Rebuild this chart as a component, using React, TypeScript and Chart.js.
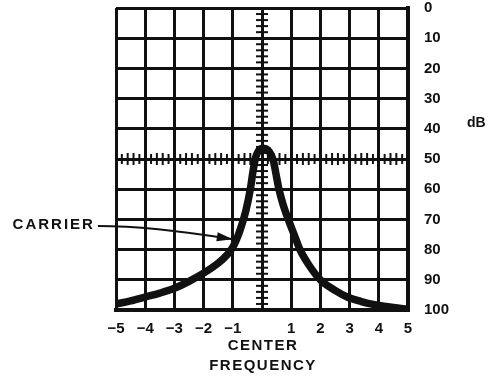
import React, { useEffect, useRef } from "react";
import { Chart, registerables } from "chart.js";

Chart.register(...registerables);

// ---- data ----
const freqMin = -5;
const freqMax = 5;
const dbMin = 0;
const dbMax = 100;
const freqStep = 1;
const dbStep = 10;

const freq = [
  -5, -4.5, -4, -3.5, -3, -2.5, -2, -1.5, -1.2, -1, -0.88, -0.75, -0.55, -0.4, -0.3, -0.22, -0.12,
  0.05, 0.2, 0.32, 0.4, 0.48, 0.58, 0.72, 0.9, 1.1, 1.3, 1.6, 2.0, 2.5, 2.9, 3.4, 3.9, 4.5, 5,
];
const carrierDb = [
  98.0, 97.0, 95.7, 94.4, 92.8, 90.5, 87.8, 84.5, 81.8, 79.2, 76.8, 73.5, 67.0, 60.0, 53.6, 49.5, 47.3,
  46.4, 47.0, 48.8, 51.0, 55.0, 60.0, 65.0, 70.0, 75.0, 80.0, 85.0, 90.0, 93.5, 95.6, 97.2, 98.3, 99.2, 99.7,
];

// graticule minor tick spacing (on the centre cross)
const dbMinorStep = 2;
const freqMinorStep = 0.2;
const crossFreq = 0;
const crossDb = 50;

const xTitle = ["CENTER", "FREQUENCY"];
const yTitle = "dB";
const carrierLabel = "CARRIER";
// arrow from label to the curve, in data units
const arrowStart = { x: -5.62, y: 72.2 };
const arrowCtrl = { x: -3.8, y: 72.2 };
const arrowTip = { x: -1.0, y: 76.6 };

const INK = "#111111";
const FONT = "'Liberation Sans', Arial, sans-serif";

const fmtFreq = (v: number) => (v === 0 ? "" : v < 0 ? "\u2212" + Math.abs(v) : String(v));

const overlayPlugin = {
  id: "overlay",
  beforeDatasetsDraw(chart: any) {
    const { ctx, scales } = chart;
    const x = scales.x;
    const y = scales.y;
    ctx.save();
    ctx.strokeStyle = INK;
    ctx.lineWidth = 2;
    const cx = x.getPixelForValue(crossFreq);
    const nDb = Math.round((dbMax - dbMin) / dbMinorStep);
    for (let i = 1; i < nDb; i++) {
      const py = y.getPixelForValue(dbMin + i * dbMinorStep);
      ctx.beginPath();
      ctx.moveTo(cx - 6, py);
      ctx.lineTo(cx + 6, py);
      ctx.stroke();
    }
    const cy = y.getPixelForValue(crossDb);
    const nF = Math.round((freqMax - freqMin) / freqMinorStep);
    for (let i = 1; i < nF; i++) {
      const v = freqMin + i * freqMinorStep;
      const px = x.getPixelForValue(v);
      const half = i % 5 === 2 || i % 5 === 3 ? 6 : 5;
      ctx.beginPath();
      ctx.moveTo(px, cy - half);
      ctx.lineTo(px, cy + half);
      ctx.stroke();
    }
    ctx.restore();
  },
  afterDraw(chart: any) {
    const { ctx, scales, chartArea } = chart;
    const x = scales.x;
    const y = scales.y;
    ctx.save();
    ctx.fillStyle = INK;
    ctx.strokeStyle = INK;
    ctx.font = `bold 15px ${FONT}`;
    (ctx as any).letterSpacing = "1.5px";
    ctx.textAlign = "center";
    ctx.textBaseline = "middle";
    const midX = (chartArea.left + chartArea.right) / 2;
    xTitle.forEach((t, i) => ctx.fillText(t, midX + 1, chartArea.bottom + 36 + i * 20));
    (ctx as any).letterSpacing = "0px";
    ctx.font = `bold 14px ${FONT}`;
    ctx.textAlign = "left";
    ctx.fillText(yTitle, chartArea.right + 59, y.getPixelForValue(38.2));
    const sx = x.getPixelForValue(arrowStart.x);
    const sy = y.getPixelForValue(arrowStart.y);
    const qx = x.getPixelForValue(arrowCtrl.x);
    const qy = y.getPixelForValue(arrowCtrl.y);
    const tx = x.getPixelForValue(arrowTip.x);
    const ty = y.getPixelForValue(arrowTip.y);
    ctx.font = `bold 15px ${FONT}`;
    (ctx as any).letterSpacing = "2px";
    ctx.textAlign = "right";
    ctx.fillText(carrierLabel, sx - 3, sy - 1);
    (ctx as any).letterSpacing = "0px";
    ctx.lineWidth = 2;
    ctx.beginPath();
    ctx.moveTo(sx, sy);
    ctx.quadraticCurveTo(qx, qy, tx, ty);
    ctx.stroke();
    const ang = Math.atan2(ty - qy, tx - qx);
    const len = 16;
    const w = 4.5;
    const bx = tx - len * Math.cos(ang);
    const by = ty - len * Math.sin(ang);
    ctx.beginPath();
    ctx.moveTo(tx, ty);
    ctx.lineTo(bx + w * Math.sin(ang), by - w * Math.cos(ang));
    ctx.lineTo(bx - w * Math.sin(ang), by + w * Math.cos(ang));
    ctx.closePath();
    ctx.fill();
    ctx.restore();
  },
};

export default function App() {
  const ref = useRef<HTMLCanvasElement | null>(null);
  useEffect(() => {
    if (!ref.current) return;
    const chart = new Chart(ref.current, {
      type: "line",
      data: {
        datasets: [
          {
            label: carrierLabel,
            data: freq.map((f, i) => ({ x: f, y: carrierDb[i] })),
            borderColor: INK,
            borderWidth: 7.5,
            pointRadius: 0,
            fill: false,
            cubicInterpolationMode: "monotone",
            borderCapStyle: "round",
            borderJoinStyle: "round",
          } as any,
        ],
      },
      options: {
        animation: false,
        responsive: false,
        devicePixelRatio: 1,
        layout: { padding: { left: 116, top: 8, right: 0, bottom: 0 } },
        plugins: { legend: { display: false }, tooltip: { enabled: false } },
        scales: {
          x: {
            type: "linear",
            min: freqMin,
            max: freqMax,
            afterFit: (s: any) => {
              s.height = 66;
              s.paddingLeft = 0;
              s.paddingRight = 0;
            },
            ticks: {
              stepSize: freqStep,
              callback: (v: any) => fmtFreq(Number(v)),
              color: INK,
              font: { family: FONT, size: 15, weight: "bold" },
              padding: 10,
              maxRotation: 0,
              autoSkip: false,
            },
            grid: { color: INK, lineWidth: 3, drawTicks: false },
            border: { color: INK, width: 4 },
          },
          y: {
            type: "linear",
            position: "right",
            reverse: true,
            min: dbMin,
            max: dbMax,
            afterFit: (s: any) => {
              s.width = 83;
              s.paddingTop = 0;
              s.paddingBottom = 0;
            },
            ticks: {
              stepSize: dbStep,
              color: INK,
              font: { family: FONT, size: 15, weight: "bold" },
              padding: 16,
              autoSkip: false,
            },
            grid: { color: INK, lineWidth: 3, drawTicks: false },
            border: { color: INK, width: 4 },
          },
        },
      },
      plugins: [overlayPlugin],
    });
    return () => chart.destroy();
  }, []);
  return (
    <div style={{ position: "absolute", left: 0, top: 0, width: 491, height: 376, background: "#fff" }}>
      <canvas ref={ref} width={491} height={376} />
    </div>
  );
}
